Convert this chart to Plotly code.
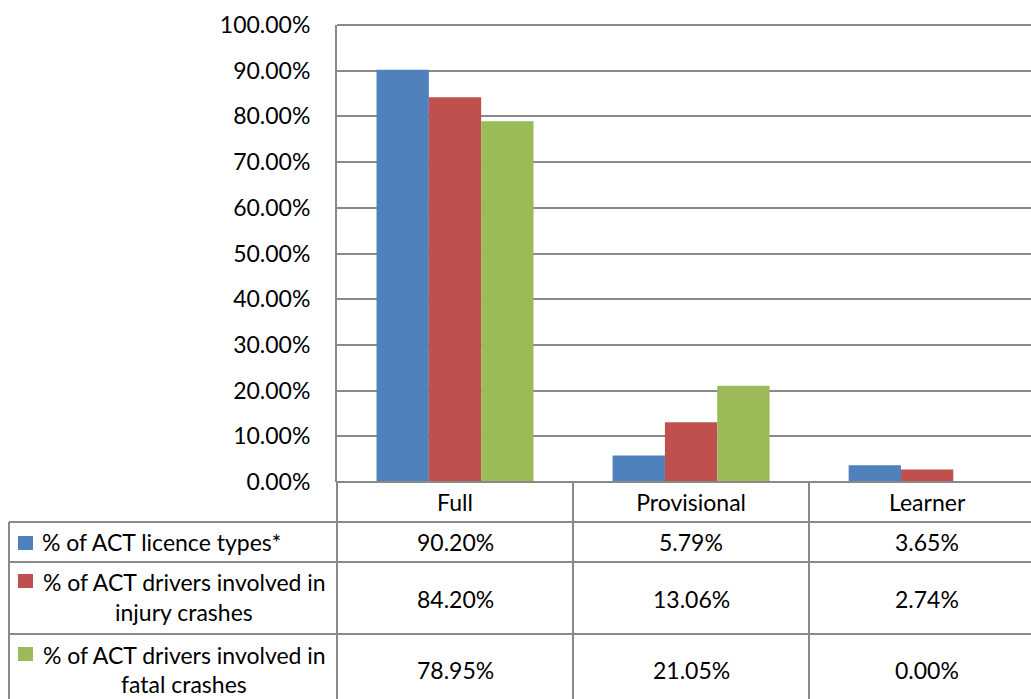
import plotly.graph_objects as go

# Licence categories and the share for each series
categories = ["Full", "Provisional", "Learner"]
series_names = [
    "% of ACT licence types*",
    "% of ACT drivers involved in injury crashes",
    "% of ACT drivers involved in fatal crashes",
]
licence_types = [0.9020, 0.0579, 0.0365]
injury_crashes = [0.8420, 0.1306, 0.0274]
fatal_crashes = [0.7895, 0.2105, 0.0000]
y_ticks = [0.0, 0.1, 0.2, 0.3, 0.4, 0.5, 0.6, 0.7, 0.8, 0.9, 1.0]

series_values = [licence_types, injury_crashes, fatal_crashes]
colors = ["#4F81BD", "#C0504D", "#9BBB59"]
# row label lines in the data table beneath the chart
row_label_lines = [
    ["% of ACT licence types*"],
    ["% of ACT drivers involved in", "injury crashes"],
    ["% of ACT drivers involved in", "fatal crashes"],
]

W, H = 1031, 699
L, T, B = 337, 25, 482  # plot-area edges in pixels
FONT = "Lato"
FS = 23
GRID = "#898989"


def fx(px):
    return (px - L) / (W - L)


def fy(py):
    return (B - py) / (B - T)


fig = go.Figure()
for name, vals, col in zip(series_names, series_values, colors):
    fig.add_trace(go.Bar(
        x=categories, y=vals, name=name,
        marker=dict(color=col, line=dict(width=0)),
        showlegend=False, cliponaxis=True,
    ))

shapes = []


def line(x0, y0, x1, y1):
    shapes.append(dict(type="line", xref="paper", yref="paper",
                       x0=fx(x0), y0=fy(y0), x1=fx(x1), y1=fy(y1),
                       line=dict(color=GRID, width=2), layer="above"))


# top border of the plot area and the data table grid
line(L, T, W + 20, T)
line(L, B, W + 20, B)
for py in (522, 562, 634):
    line(9, py, W + 20, py)
line(9, 522, 9, H + 5)
line(L, B, L, H + 5)
for px in (573, 809):
    line(px, B, px, H + 5)

annotations = []
row_centers = [542, 599, 670]
swatch_centers = [543, 581, 654]
first_line_y = [542, 582, 655]
second_line_y = [None, 612, 684]
txt_font = dict(family=FONT, size=FS, color="black")

for r in range(3):
    # legend swatch for the row
    shapes.append(dict(type="rect", xref="paper", yref="paper",
                       x0=fx(18), x1=fx(33),
                       y0=fy(swatch_centers[r] - 7), y1=fy(swatch_centers[r] + 7),
                       fillcolor=colors[r], line=dict(width=0)))
    lines = row_label_lines[r]
    if len(lines) == 1:
        annotations.append(dict(xref="paper", yref="paper", x=fx(40), y=fy(first_line_y[r]),
                                xanchor="left", yanchor="middle", text=lines[0],
                                showarrow=False, font=txt_font))
    else:
        for txt, py in zip(lines, (first_line_y[r], second_line_y[r])):
            annotations.append(dict(xref="paper", yref="paper", x=fx(184), y=fy(py),
                                    xanchor="center", yanchor="middle", text=txt,
                                    showarrow=False, font=txt_font))
    for c, cat in enumerate(categories):
        annotations.append(dict(xref="x", yref="paper", x=cat, y=fy(row_centers[r]),
                                xanchor="center", yanchor="middle",
                                text=f"{series_values[r][c] * 100:.2f}%",
                                showarrow=False, font=txt_font))

fig.update_layout(
    width=W, height=H,
    margin=dict(l=L, r=0, t=T, b=H - B, pad=0),
    paper_bgcolor="white", plot_bgcolor="white",
    barmode="group", bargap=0.335, bargroupgap=0,
    font=txt_font,
    shapes=shapes, annotations=annotations,
    xaxis=dict(range=[-0.5, 2.44], showgrid=False, showline=False, zeroline=False,
               ticks="", tickfont=txt_font, ticklabelstandoff=5, fixedrange=True),
    yaxis=dict(range=[0, 1], tickvals=y_ticks, tickformat=".2%",
               showgrid=True, gridcolor=GRID, gridwidth=2,
               showline=True, linecolor=GRID, linewidth=2,
               zeroline=False, ticks="", ticklabelstandoff=20,
               tickfont=txt_font),
)

fig.write_html("out.html")
